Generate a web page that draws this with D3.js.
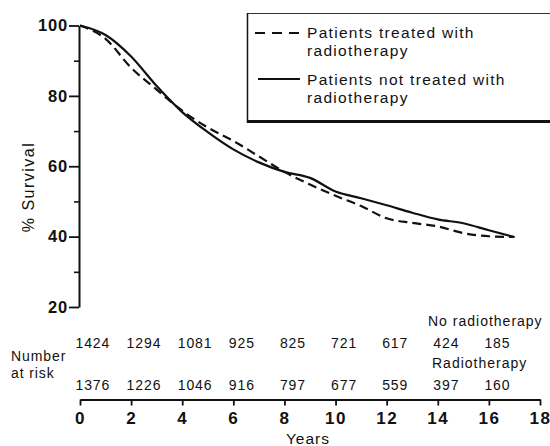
<!DOCTYPE html>
<html>
<head>
<meta charset="utf-8">
<script src="https://cdn.jsdelivr.net/npm/d3@7"></script>
<style>
  html, body { margin: 0; padding: 0; background: #fff; }
  svg { display: block; }
  text { font-family: "Liberation Sans", Arial, Helvetica, sans-serif; fill: #111; }
</style>
</head>
<body>
<svg id="chart" width="550" height="446"></svg>
<script>
// ---- data ----
const years = [0,1,2,3,4,5,6,7,8,9,10,11,12,13,14,15,16,17];
const treated    = [100, 96.2, 88.0, 81.8, 75.8, 71.0, 67.2, 62.8, 58.4, 54.8, 51.6, 48.7, 45.2, 43.9, 42.9, 41.0, 40.1, 39.9];
const notTreated = [100, 97.3, 91.2, 82.8, 75.4, 69.7, 64.8, 61.1, 58.4, 56.7, 52.8, 50.9, 48.9, 46.8, 44.9, 43.8, 41.8, 39.9];
const riskYears = [0, 2, 4, 6, 8, 10, 12, 14, 16];
const riskNoRT  = [1424, 1294, 1081, 925, 825, 721, 617, 424, 185];
const riskRT    = [1376, 1226, 1046, 916, 797, 677, 559, 397, 160];
const xTicks = [0, 2, 4, 6, 8, 10, 12, 14, 16, 18];
const yMajor = [20, 40, 60, 80, 100];
const yMinor = [30, 50, 70, 90];
const legendLabels = [
  ["Patients treated with", "radiotherapy"],
  ["Patients not treated with", "radiotherapy"]
];

// ---- layout ----
const svg = d3.select("#chart");
const x = d3.scaleLinear().domain([0, 18]).range([80, 540]);
const y = d3.scaleLinear().domain([20, 100]).range([307, 25.5]);
const ink = "#111";

// Y axis
const yAxis = svg.append("g").attr("transform", "translate(79,0)")
  .call(d3.axisLeft(y).tickValues(yMajor).tickSize(10).tickSizeOuter(0).tickPadding(1));
yAxis.select(".domain").attr("stroke", ink).attr("stroke-width", 2);
yAxis.selectAll(".tick line").attr("stroke", ink).attr("stroke-width", 1.8);
yAxis.selectAll(".tick text")
  .style("font-family", '"Liberation Sans", Arial, sans-serif')
  .style("font-size", "16.5px").style("font-weight", "bold")
  .style("letter-spacing", "0.8px").attr("fill", ink);

const yMinorAxis = svg.append("g").attr("transform", "translate(79,0)")
  .call(d3.axisLeft(y).tickValues(yMinor).tickSize(5).tickFormat(""));
yMinorAxis.select(".domain").remove();
yMinorAxis.selectAll(".tick line").attr("stroke", ink).attr("stroke-width", 1.6);

// X axis
const xAxis = svg.append("g").attr("transform", "translate(0,399.5)")
  .call(d3.axisBottom(x).tickValues(xTicks).tickSize(6).tickSizeOuter(0).tickPadding(6));
xAxis.select(".domain").attr("stroke", ink).attr("stroke-width", 2.2);
xAxis.selectAll(".tick line").attr("stroke", ink).attr("stroke-width", 1.8);
xAxis.selectAll(".tick text")
  .style("font-family", '"Liberation Sans", Arial, sans-serif')
  .style("font-size", "17px").style("font-weight", "bold")
  .style("letter-spacing", "1.5px").attr("fill", ink);

// axis titles
svg.append("text")
  .attr("transform", `translate(34,187) rotate(-90)`)
  .attr("text-anchor", "middle")
  .style("font-size", "16px").style("letter-spacing", "1.5px")
  .text("% Survival");
svg.append("text")
  .attr("x", 308).attr("y", 444)
  .attr("text-anchor", "middle")
  .style("font-size", "15.5px").style("letter-spacing", "1px")
  .text("Years");

// curves
const line = d3.line().x((d, i) => x(years[i])).y(d => y(d)).curve(d3.curveMonotoneX);
svg.append("path").datum(notTreated)
  .attr("d", line).attr("fill", "none").attr("stroke", ink).attr("stroke-width", 2.2);
svg.append("path").datum(treated)
  .attr("d", line).attr("fill", "none").attr("stroke", ink).attr("stroke-width", 2.2)
  .attr("stroke-dasharray", "9,5");

// legend
const lg = svg.append("g");
lg.append("line").attr("x1", 247).attr("x2", 560).attr("y1", 13.5).attr("y2", 13.5)
  .attr("stroke", "#333").attr("stroke-width", 1);
lg.append("line").attr("x1", 247.5).attr("x2", 247.5).attr("y1", 13).attr("y2", 123)
  .attr("stroke", ink).attr("stroke-width", 1.5);
lg.append("line").attr("x1", 247).attr("x2", 560).attr("y1", 121.5).attr("y2", 121.5)
  .attr("stroke", ink).attr("stroke-width", 3);
lg.append("line").attr("x1", 255).attr("x2", 300).attr("y1", 33).attr("y2", 33)
  .attr("stroke", ink).attr("stroke-width", 2).attr("stroke-dasharray", "10,7");
lg.append("line").attr("x1", 258).attr("x2", 300).attr("y1", 79).attr("y2", 79)
  .attr("stroke", ink).attr("stroke-width", 1.8);
const legendY = [38, 85];
legendLabels.forEach((lines, i) => {
  lines.forEach((t, j) => {
    lg.append("text").attr("x", 307).attr("y", legendY[i] + j * 18)
      .style("font-size", "15.5px").style("letter-spacing", "1.3px")
      .text(t);
  });
});

// number at risk
const risk = svg.append("g").style("font-size", "14px").style("letter-spacing", "0.9px");
risk.selectAll("text.norr").data(riskNoRT).join("text")
  .attr("x", (d, i) => x(riskYears[i]) - 4.5).attr("y", 348)
  .text(d => d);
risk.selectAll("text.rt").data(riskRT).join("text")
  .attr("x", (d, i) => x(riskYears[i]) - 4.5).attr("y", 390)
  .text(d => d);
risk.append("text").attr("x", 428).attr("y", 326).style("letter-spacing", "1px").text("No radiotherapy");
risk.append("text").attr("x", 432).attr("y", 367.5).style("letter-spacing", "1px").text("Radiotherapy");
risk.append("text").attr("x", 11).attr("y", 361).style("letter-spacing", "0.9px").text("Number");
risk.append("text").attr("x", 11).attr("y", 378).style("letter-spacing", "0.9px").text("at risk");
</script>
</body>
</html>
